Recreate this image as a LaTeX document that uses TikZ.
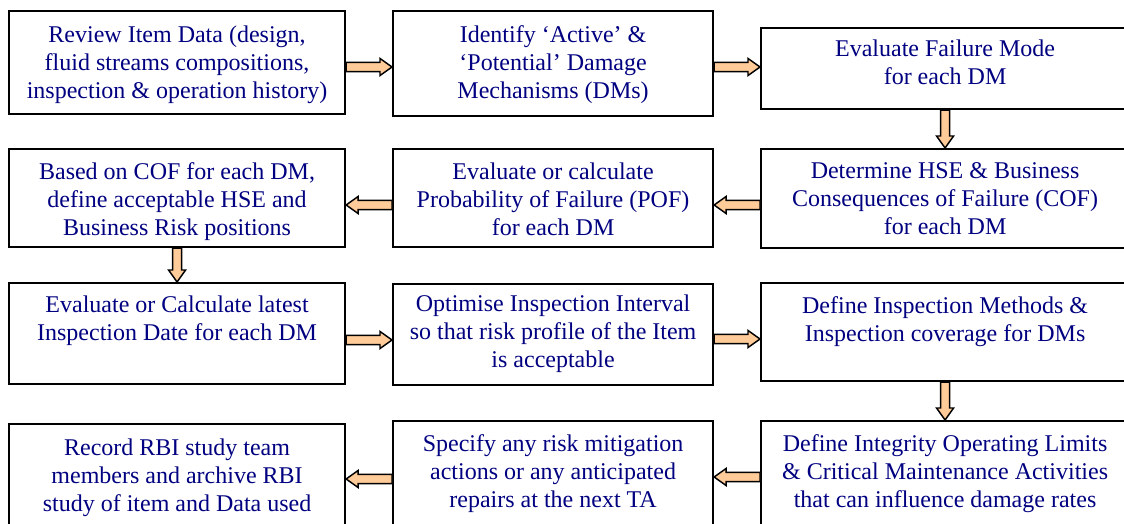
\documentclass[tikz,border=0pt]{standalone}
\usepackage{fontspec}
\setmainfont{Liberation Serif}
\usetikzlibrary{positioning, calc}

\definecolor{navytext}{RGB}{0,0,128}
\definecolor{flowfill}{RGB}{255,204,153}

\tikzset{
  stepbox/.style={draw, line width=1.6pt, inner sep=0pt, anchor=north west},
  leftcol/.style={stepbox, minimum width=252pt},
  midcol/.style={stepbox, minimum width=240pt},
  rightcol/.style={stepbox, minimum width=276pt},
  steptext/.style={font=\fontsize{18}{21}\selectfont, text=navytext, align=center,
    inner sep=0pt, execute at begin node=\strut},
  flow/.style={draw, fill=flowfill, line width=1.1pt, line join=miter,
    to path={(\tikztostart) coordinate (fs) (\tikztotarget) coordinate (ft)
      ($(fs)!3.4pt!90:(ft)$) -- ($(ft)!9pt!(fs)!3.4pt!-90:(fs)$)
      -- ($(ft)!9pt!(fs)!6.4pt!-90:(fs)$) -- (ft)
      -- ($(ft)!9pt!(fs)!6.4pt!90:(fs)$) -- ($(ft)!9pt!(fs)!3.4pt!90:(fs)$)
      -- ($(fs)!3.4pt!-90:(ft)$) -- cycle}}
}

\begin{document}
\begin{tikzpicture}[x=0.75pt, y=-0.75pt]
    \useasboundingbox (0,0) rectangle (1124,524);
    \clip (0,0) rectangle (1124,524);
    % boxes
    \node[leftcol, minimum height=77.25pt] (s_1) at (8,10) {};
    \node[midcol, minimum height=78.75pt] (s_2) at (392,10) {};
    \node[rightcol, minimum height=60.75pt] (s_3) at (760,27) {};
    \node[leftcol, minimum height=73.5pt] (s_4) at (8,148) {};
    \node[midcol, minimum height=73.5pt] (s_5) at (392,148) {};
    \node[rightcol, minimum height=74.25pt] (s_6) at (760,148) {};
    \node[leftcol, minimum height=75.75pt] (s_7) at (8,282) {};
    \node[midcol, minimum height=75.75pt] (s_8) at (392,283) {};
    \node[rightcol, minimum height=73.5pt] (s_9) at (760,282) {};
    \node[leftcol, minimum height=82.5pt] (s_10) at (8,423) {};
    \node[midcol, minimum height=84pt] (s_11) at (392,420) {};
    \node[rightcol, minimum height=84pt] (s_12) at (760,420) {};
    % texts
    \node[steptext, below=11.5pt of s_1.north] (t_1) {Review Item Data (design,\\fluid streams compositions,\\inspection \& operation history)};
    \node[steptext, below=11.5pt of s_2.north] (t_2) {Identify ‘Active’ \&\\‘Potential’ Damage\\Mechanisms (DMs)};
    \node[steptext, below=9.5pt of s_3.north] (t_3) {Evaluate Failure Mode\\for each DM};
    \node[steptext, below=10.5pt of s_4.north] (t_4) {Based on COF for each DM,\\define acceptable HSE and\\Business Risk positions};
    \node[steptext, below=11pt of s_5.north] (t_5) {Evaluate or calculate\\Probability of Failure (POF)\\for each DM};
    \node[steptext, below=11pt of s_6.north] (t_6) {Determine HSE \& Business\\Consequences of Failure (COF)\\for each DM};
    \node[steptext, below=10pt of s_7.north] (t_7) {Evaluate or Calculate latest\\Inspection Date for each DM};
    \node[steptext, below=9pt of s_8.north] (t_8) {Optimise Inspection Interval\\so that risk profile of the Item\\is acceptable};
    \node[steptext, below=11pt of s_9.north] (t_9) {Define Inspection Methods \&\\Inspection coverage for DMs};
    \node[steptext, below=11.5pt of s_10.north] (t_10) {Record RBI study team\\members and archive RBI\\study of item and Data used};
    \node[steptext, below=10.5pt of s_11.north] (t_11) {Specify any risk mitigation\\actions or any anticipated\\repairs at the next TA};
    \node[steptext, below=10.5pt of s_12.north] (t_12) {Define Integrity Operating Limits\\\& Critical Maintenance Activities\\that can influence damage rates};
    % arrows
    \draw[flow] ($(s_1.north east)+(0,57)$) to ($(s_2.north west)+(0,57)$);
    \draw[flow] ($(s_2.north east)+(0,57)$) to ($(s_3.north west)+(0,40)$);
    \draw[flow] (s_3.south) to (s_6.north);
    \draw[flow] ($(s_6.north west)+(0,57)$) to ($(s_5.north east)+(0,57)$);
    \draw[flow] ($(s_5.north west)+(0,57)$) to ($(s_4.north east)+(0,57)$);
    \draw[flow] (s_4.south) to (s_7.north);
    \draw[flow] ($(s_7.north east)+(0,58)$) to ($(s_8.north west)+(0,57)$);
    \draw[flow] ($(s_8.north east)+(0,56)$) to ($(s_9.north west)+(0,57)$);
    \draw[flow] (s_9.south) to (s_12.north);
    \draw[flow] ($(s_12.north west)+(0,57)$) to ($(s_11.north east)+(0,57)$);
    \draw[flow] ($(s_11.north west)+(0,59)$) to ($(s_10.north east)+(0,56)$);
\end{tikzpicture}
\end{document}
